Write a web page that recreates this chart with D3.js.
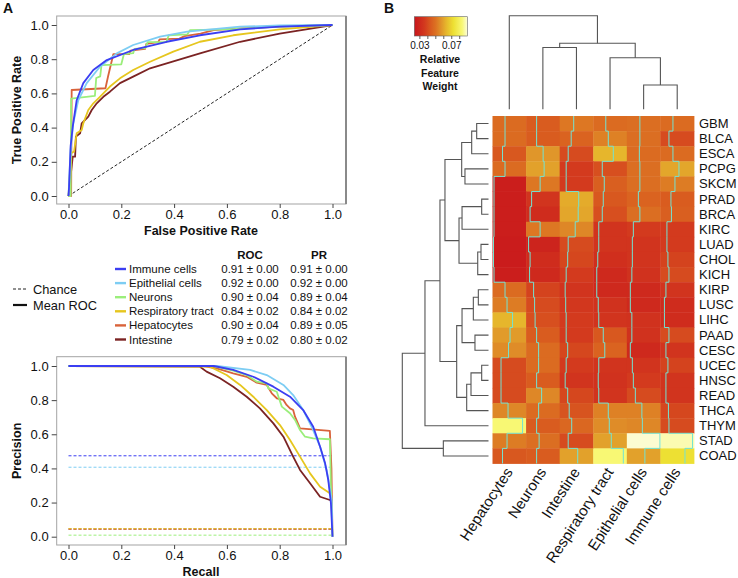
<!DOCTYPE html>
<html>
<head>
<meta charset="utf-8">
<script src="https://cdn.jsdelivr.net/npm/d3@7"></script>
<style>
  body { margin: 0; background: #fff; }
  text { font-family: "Liberation Sans", Arial, sans-serif; fill: #111; }
</style>
</head>
<body>
<svg id="fig" width="738" height="578"></svg>
<script>
//////////// DATA ////////////

// panel A: classes, legend values
var classes = ["Immune cells", "Epithelial cells", "Neurons", "Respiratory tract", "Hepatocytes", "Intestine"];
var classColors = ["#3b3ef2", "#7dcdf3", "#9bee7b", "#e6c61e", "#d9633b", "#7b2323"];
var rocAuc = [0.91, 0.92, 0.90, 0.84, 0.90, 0.79];
var rocSd = [0.00, 0.00, 0.04, 0.02, 0.04, 0.02];
var prAuc = [0.91, 0.92, 0.89, 0.84, 0.89, 0.80];
var prSd = [0.00, 0.00, 0.04, 0.02, 0.05, 0.02];
var prChance = [0.474, 0.407, 0.009, 0.047, 0.044, 0.045];

// mean ROC curves [fpr, tpr]
var rocImmune = [[0,0],[0.002,0.05],[0.008,0.29],[0.016,0.405],[0.031,0.56],[0.056,0.66],[0.094,0.737],[0.145,0.795],[0.245,0.854],[0.372,0.902],[0.498,0.94],[0.65,0.975],[0.8,0.99],[1,1]];
var rocEpithelial = [[0,0],[0.008,0.27],[0.018,0.425],[0.037,0.56],[0.069,0.66],[0.119,0.756],[0.183,0.834],[0.245,0.883],[0.347,0.932],[0.45,0.961],[0.65,0.99],[0.8,0.997],[1,1]];
var rocNeurons = [[0,0],[0.008,0],[0.01,0.57],[0.1,0.585],[0.105,0.69],[0.12,0.70],[0.125,0.765],[0.2,0.77],[0.21,0.83],[0.245,0.835],[0.25,0.86],[0.29,0.865],[0.3,0.9],[0.37,0.9],[0.38,0.94],[0.45,0.945],[0.46,0.97],[0.6,0.975],[0.8,0.99],[1,1]];
var rocRespiratory = [[0,0],[0.01,0.25],[0.021,0.26],[0.031,0.367],[0.05,0.386],[0.056,0.425],[0.075,0.503],[0.094,0.542],[0.119,0.58],[0.157,0.64],[0.195,0.688],[0.245,0.737],[0.309,0.785],[0.397,0.844],[0.498,0.902],[0.624,0.94],[0.8,0.975],[1,1]];
var rocHepatocytes = [[0,0],[0.01,0],[0.012,0.62],[0.14,0.63],[0.15,0.70],[0.17,0.83],[0.23,0.83],[0.235,0.85],[0.29,0.86],[0.295,0.89],[0.34,0.9],[0.345,0.916],[0.42,0.92],[0.44,0.935],[0.5,0.95],[0.55,0.97],[0.65,0.98],[0.8,0.99],[1,1]];
var rocIntestine = [[0,0],[0.016,0.23],[0.025,0.23],[0.028,0.347],[0.044,0.367],[0.05,0.425],[0.075,0.464],[0.088,0.503],[0.107,0.542],[0.132,0.58],[0.157,0.61],[0.195,0.66],[0.245,0.698],[0.309,0.747],[0.372,0.776],[0.498,0.834],[0.65,0.902],[0.8,0.95],[0.9,0.975],[1,1]];
var rocCurves = [rocImmune, rocEpithelial, rocNeurons, rocRespiratory, rocHepatocytes, rocIntestine];

// mean PR curves [recall, precision]
var prImmune = [[0,1],[0.55,1],[0.624,0.977],[0.7,0.937],[0.776,0.879],[0.839,0.82],[0.889,0.742],[0.927,0.644],[0.953,0.527],[0.972,0.43],[0.984,0.332],[0.994,0.196],[1,0]];
var prEpithelial = [[0,1],[0.561,1],[0.688,0.977],[0.751,0.947],[0.814,0.889],[0.851,0.83],[0.889,0.742],[0.921,0.644],[0.953,0.527],[0.978,0.391],[0.997,0.215],[1,0]];
var prNeurons = [[0,1],[0.549,1],[0.624,0.973],[0.675,0.947],[0.713,0.908],[0.751,0.898],[0.757,0.869],[0.789,0.849],[0.808,0.762],[0.839,0.723],[0.858,0.684],[0.877,0.625],[0.896,0.586],[0.927,0.576],[0.99,0.571],[0.994,0.3],[1,0]];
var prRespiratory = [[0,1],[0.536,0.996],[0.599,0.947],[0.65,0.889],[0.7,0.82],[0.751,0.742],[0.801,0.654],[0.839,0.566],[0.877,0.469],[0.915,0.371],[0.953,0.293],[0.99,0.254],[1,0.25]];
var prHepatocytes = [[0,1],[0.51,1],[0.561,0.986],[0.624,0.957],[0.675,0.937],[0.713,0.902],[0.751,0.889],[0.77,0.84],[0.789,0.811],[0.814,0.801],[0.826,0.772],[0.839,0.752],[0.851,0.742],[0.858,0.703],[0.877,0.635],[0.99,0.62],[0.996,0.4],[1,0]];
var prIntestine = [[0,1],[0.498,0.996],[0.523,0.967],[0.574,0.928],[0.624,0.879],[0.675,0.82],[0.725,0.752],[0.776,0.664],[0.814,0.586],[0.851,0.469],[0.877,0.391],[0.915,0.313],[0.953,0.234],[0.99,0.215],[1,0.215]];
var prCurves = [prImmune, prEpithelial, prNeurons, prRespiratory, prHepatocytes, prIntestine];

var axisTicks = [0, 0.2, 0.4, 0.6, 0.8, 1.0];

// panel B: heatmap
var cancerTypes = ["GBM","BLCA","ESCA","PCPG","SKCM","PRAD","BRCA","KIRC","LUAD","CHOL","KICH","KIRP","LUSC","LIHC","PAAD","CESC","UCEC","HNSC","READ","THCA","THYM","STAD","COAD"];
var cellTypes = ["Hepatocytes","Neurons","Intestine","Respiratory tract","Epithelial cells","Immune cells"];
var weights = [
  [0.048,0.044,0.051,0.048,0.049,0.048],
  [0.048,0.044,0.046,0.053,0.049,0.040],
  [0.043,0.057,0.040,0.063,0.048,0.048],
  [0.048,0.059,0.036,0.041,0.049,0.060],
  [0.026,0.051,0.036,0.045,0.049,0.052],
  [0.026,0.034,0.061,0.043,0.046,0.044],
  [0.026,0.031,0.060,0.041,0.049,0.045],
  [0.026,0.051,0.054,0.034,0.036,0.036],
  [0.025,0.028,0.040,0.034,0.034,0.036],
  [0.025,0.031,0.039,0.032,0.034,0.038],
  [0.026,0.030,0.036,0.030,0.033,0.040],
  [0.048,0.038,0.034,0.030,0.030,0.034],
  [0.052,0.040,0.035,0.033,0.030,0.031],
  [0.063,0.041,0.036,0.034,0.033,0.031],
  [0.058,0.044,0.036,0.043,0.033,0.040],
  [0.055,0.048,0.039,0.046,0.030,0.034],
  [0.040,0.048,0.036,0.034,0.034,0.038],
  [0.040,0.044,0.034,0.033,0.036,0.034],
  [0.040,0.054,0.039,0.034,0.040,0.034],
  [0.054,0.048,0.042,0.053,0.053,0.039],
  [0.083,0.044,0.047,0.055,0.054,0.040],
  [0.052,0.049,0.040,0.059,0.089,0.087],
  [0.043,0.044,0.059,0.083,0.059,0.072]
];
var weightRange = [0.023, 0.09];
var keyTicks = [0.03, 0.04, 0.05, 0.06, 0.07, 0.08];
var keyLabels = [0.03, 0.07];
var colorStops = [0.023, 0.036, 0.043, 0.050, 0.057, 0.063, 0.072, 0.083, 0.090];
var colorValues = ["#c8161c", "#d33a1e", "#d8581f", "#dc7222", "#e0962a", "#e6b62c", "#ede033", "#f8f874", "#fdfde0"];

// dendrograms: [childA, childB, height]; numbers point to earlier merges
var rowMerges = [
  ["GBM","BLCA",0.137], [0,"ESCA",0.195], ["PCPG","SKCM",0.273], [1,2,0.311],
  ["PRAD","BRCA",0.079], [4,"KIRC",0.307], ["LUAD","CHOL",0.087], [6,"KICH",0.125],
  [5,7,0.342], [3,8,0.505],
  ["KIRP","LUSC",0.118], [10,"LIHC",0.176], ["PAAD","CESC",0.157], [11,12,0.307],
  ["UCEC","HNSC",0.079], [14,"READ",0.203], [15,"THCA",0.253], [13,16,0.369],
  [9,17,0.563], [18,"THYM",0.737], ["STAD","COAD",0.524], [19,20,1.0]
];
var colMerges = [
  ["Neurons","Intestine",0.66], ["Epithelial cells","Immune cells",0.26],
  ["Respiratory tract",1,0.55], [0,2,0.705], ["Hepatocytes",3,1.0]
];

//////////// PANEL A ////////////

var svg = d3.select("#fig");
svg.append("rect").attr("width", 738).attr("height", 578).attr("fill", "#fff");

svg.append("text").attr("x", 3).attr("y", 13).style("font-size", "14px").style("font-weight", "bold").text("A");
svg.append("text").attr("x", 384).attr("y", 13).style("font-size", "14px").style("font-weight", "bold").text("B");

var x = d3.scaleLinear().domain([0, 1]).range([68.5, 332.5]);

function drawFrame(top, bottom, yScale, xTitle, yTitle) {
  var g = svg.append("g");
  g.append("rect").attr("x", 56.7).attr("y", top).attr("width", 346 - 56.7).attr("height", bottom - top)
    .attr("fill", "none").attr("stroke", "#a3a3a3").attr("stroke-width", 1);
  g.append("line").attr("x1", 346).attr("x2", 346).attr("y1", top).attr("y2", bottom)
    .attr("stroke", "#8a8a8a").attr("stroke-width", 2);

  var ax = g.append("g").attr("transform", "translate(0," + bottom + ")")
    .call(d3.axisBottom(x).tickValues(axisTicks).tickFormat(d3.format(".1f")).tickSize(4).tickPadding(2));
  var ay = g.append("g").attr("transform", "translate(56.7,0)")
    .call(d3.axisLeft(yScale).tickValues(axisTicks).tickFormat(d3.format(".1f")).tickSize(5).tickPadding(3));
  [ax, ay].forEach(function (a) {
    a.select(".domain").remove();
    a.selectAll("line").attr("stroke", "#444");
    a.selectAll("text").style("font-size", "13px").attr("fill", "#222");
  });

  g.append("text").attr("x", 201).attr("y", bottom + 31).attr("text-anchor", "middle")
    .style("font-size", "12.5px").style("font-weight", "bold").text(xTitle);
  g.append("text").attr("transform", "translate(21," + ((top + bottom) / 2) + ") rotate(-90)")
    .attr("text-anchor", "middle").style("font-size", "12.5px").style("font-weight", "bold").text(yTitle);
  return g;
}

// ROC
var yRoc = d3.scaleLinear().domain([0, 1]).range([196, 25]);
var gRoc = drawFrame(16, 204, yRoc, "False Positive Rate", "True Positive Rate");
gRoc.append("line").attr("x1", x(0)).attr("y1", yRoc(0)).attr("x2", x(1)).attr("y2", yRoc(1))
  .attr("stroke", "#222").attr("stroke-width", 1).attr("stroke-dasharray", "3,2");
var rocLine = d3.line().x(function (d) { return x(d[0]); }).y(function (d) { return yRoc(d[1]); });
for (var i = classes.length - 1; i >= 0; i--) {
  gRoc.append("path").attr("d", rocLine(rocCurves[i])).attr("fill", "none")
    .attr("stroke", classColors[i]).attr("stroke-width", 1.8).attr("stroke-linejoin", "round");
}

// PR
var yPr = d3.scaleLinear().domain([0, 1]).range([536.7, 366]);
var gPr = drawFrame(356.7, 545, yPr, "Recall", "Precision");
var prLine = d3.line().x(function (d) { return x(d[0]); }).y(function (d) { return yPr(d[1]); });
for (var i = classes.length - 1; i >= 0; i--) {
  gPr.append("line").attr("x1", x(0)).attr("x2", x(1)).attr("y1", yPr(prChance[i])).attr("y2", yPr(prChance[i]))
    .attr("stroke", classColors[i]).attr("stroke-width", 1).attr("stroke-dasharray", "3,2");
}
for (var i = classes.length - 1; i >= 0; i--) {
  gPr.append("path").attr("d", prLine(prCurves[i])).attr("fill", "none")
    .attr("stroke", classColors[i]).attr("stroke-width", 1.8).attr("stroke-linejoin", "round");
}

// legend
var leg = svg.append("g");
var fmt = d3.format(".2f");
leg.append("text").attr("x", 250).attr("y", 255).attr("text-anchor", "middle").attr("dominant-baseline", "central")
  .style("font-size", "11.5px").style("font-weight", "bold").text("ROC");
leg.append("text").attr("x", 319).attr("y", 255).attr("text-anchor", "middle").attr("dominant-baseline", "central")
  .style("font-size", "11.5px").style("font-weight", "bold").text("PR");
classes.forEach(function (c, i) {
  var yy = 269 + i * 14.1;
  leg.append("line").attr("x1", 115).attr("x2", 126).attr("y1", yy).attr("y2", yy)
    .attr("stroke", classColors[i]).attr("stroke-width", 2.4);
  leg.append("text").attr("x", 129).attr("y", yy).attr("dominant-baseline", "central")
    .style("font-size", "11.5px").text(c);
  leg.append("text").attr("x", 250).attr("y", yy).attr("text-anchor", "middle").attr("dominant-baseline", "central")
    .style("font-size", "11.5px").text(fmt(rocAuc[i]) + " \u00b1 " + fmt(rocSd[i]));
  leg.append("text").attr("x", 319).attr("y", yy).attr("text-anchor", "middle").attr("dominant-baseline", "central")
    .style("font-size", "11.5px").text(fmt(prAuc[i]) + " \u00b1 " + fmt(prSd[i]));
});
leg.append("line").attr("x1", 13).attr("x2", 27).attr("y1", 289).attr("y2", 289)
  .attr("stroke", "#222").attr("stroke-width", 1).attr("stroke-dasharray", "3,2");
leg.append("text").attr("x", 33).attr("y", 289).attr("dominant-baseline", "central").style("font-size", "12.8px").text("Chance");
leg.append("line").attr("x1", 13).attr("x2", 27).attr("y1", 305).attr("y2", 305)
  .attr("stroke", "#111").attr("stroke-width", 2.2);
leg.append("text").attr("x", 33).attr("y", 305).attr("dominant-baseline", "central").style("font-size", "12.8px").text("Mean ROC");

//////////// PANEL B ////////////

var color = d3.scaleLinear().domain(colorStops).range(colorValues);
var xCell = d3.scaleBand().domain(cellTypes).range([492.5, 694]);
var yCell = d3.scaleBand().domain(cancerTypes).range([116, 463.5]);
var hm = svg.append("g");

cancerTypes.forEach(function (r, i) {
  cellTypes.forEach(function (c, j) {
    hm.append("rect").attr("x", xCell(c)).attr("y", yCell(r))
      .attr("width", xCell.bandwidth() + 0.4).attr("height", yCell.bandwidth() + 0.4)
      .attr("fill", color(weights[i][j]));
  });
});

// column trace lines
var traceX = d3.scaleLinear().domain(weightRange).range([0, xCell.bandwidth()]);
cellTypes.forEach(function (c, j) {
  var p = d3.path();
  cancerTypes.forEach(function (r, i) {
    var xx = xCell(c) + traceX(weights[i][j]);
    if (i === 0) p.moveTo(xx, yCell(r)); else p.lineTo(xx, yCell(r));
    p.lineTo(xx, yCell(r) + yCell.bandwidth());
  });
  hm.append("path").attr("d", p.toString()).attr("fill", "none")
    .attr("stroke", "#74e3d2").attr("stroke-width", 1);
});

// labels
cancerTypes.forEach(function (r) {
  hm.append("text").attr("x", 699).attr("y", yCell(r) + yCell.bandwidth() / 2).attr("dominant-baseline", "central")
    .style("font-size", "13px").text(r);
});
cellTypes.forEach(function (c) {
  var cx = xCell(c) + xCell.bandwidth() / 2 + 4;
  hm.append("text").attr("transform", "translate(" + cx + ",472) rotate(-57)")
    .attr("text-anchor", "end").style("font-size", "15px").text(c);
});

// dendrograms
function drawDendro(merges, leafPos, hScale, horizontal) {
  var nodes = [];
  var g = svg.append("g");
  function get(k) { return typeof k === "number" ? nodes[k] : { pos: leafPos(k), h: 0 }; }
  merges.forEach(function (m) {
    var a = get(m[0]), b = get(m[1]), h = m[2];
    nodes.push({ pos: (a.pos + b.pos) / 2, h: h });
    var pts = [[a.pos, a.h], [a.pos, h], [b.pos, h], [b.pos, b.h]].map(function (d) {
      return horizontal ? [hScale(d[1]), d[0]] : [d[0], hScale(d[1])];
    });
    g.append("path").attr("d", d3.line()(pts)).attr("fill", "none")
      .attr("stroke", "#555").attr("stroke-width", 1.1);
  });
}
drawDendro(rowMerges, function (k) { return yCell(k) + yCell.bandwidth() / 2; },
  d3.scaleLinear().domain([0, 1]).range([488.5, 402.3]), true);
drawDendro(colMerges, function (k) { return xCell(k) + xCell.bandwidth() / 2; },
  d3.scaleLinear().domain([0, 1]).range([109.3, 15.7]), false);

// colour key
var defs = svg.append("defs");
var grad = defs.append("linearGradient").attr("id", "keygrad");
var keyX = d3.scaleLinear().domain(weightRange).range([414.3, 467.7]);
colorStops.forEach(function (v, k) {
  grad.append("stop").attr("offset", ((v - weightRange[0]) / (weightRange[1] - weightRange[0]) * 100) + "%")
    .attr("stop-color", colorValues[k]);
});
var key = svg.append("g");
key.append("rect").attr("x", 414.3).attr("y", 16.7).attr("width", 53.4).attr("height", 19.3)
  .attr("fill", "url(#keygrad)").attr("stroke", "#666").attr("stroke-width", 0.6);
keyTicks.forEach(function (v) {
  key.append("line").attr("x1", keyX(v)).attr("x2", keyX(v)).attr("y1", 36).attr("y2", 39)
    .attr("stroke", "#333").attr("stroke-width", 0.8);
});
keyLabels.forEach(function (v) {
  key.append("text").attr("x", keyX(v)).attr("y", 45).attr("text-anchor", "middle").attr("dominant-baseline", "central")
    .style("font-size", "10px").text(v.toFixed(2));
});
["Relative", "Feature", "Weight"].forEach(function (t, k) {
  key.append("text").attr("x", 440).attr("y", 59.3 + k * 13.3).attr("text-anchor", "middle").attr("dominant-baseline", "central")
    .style("font-size", "10.5px").style("font-weight", "bold").text(t);
});
</script>
</body>
</html>
